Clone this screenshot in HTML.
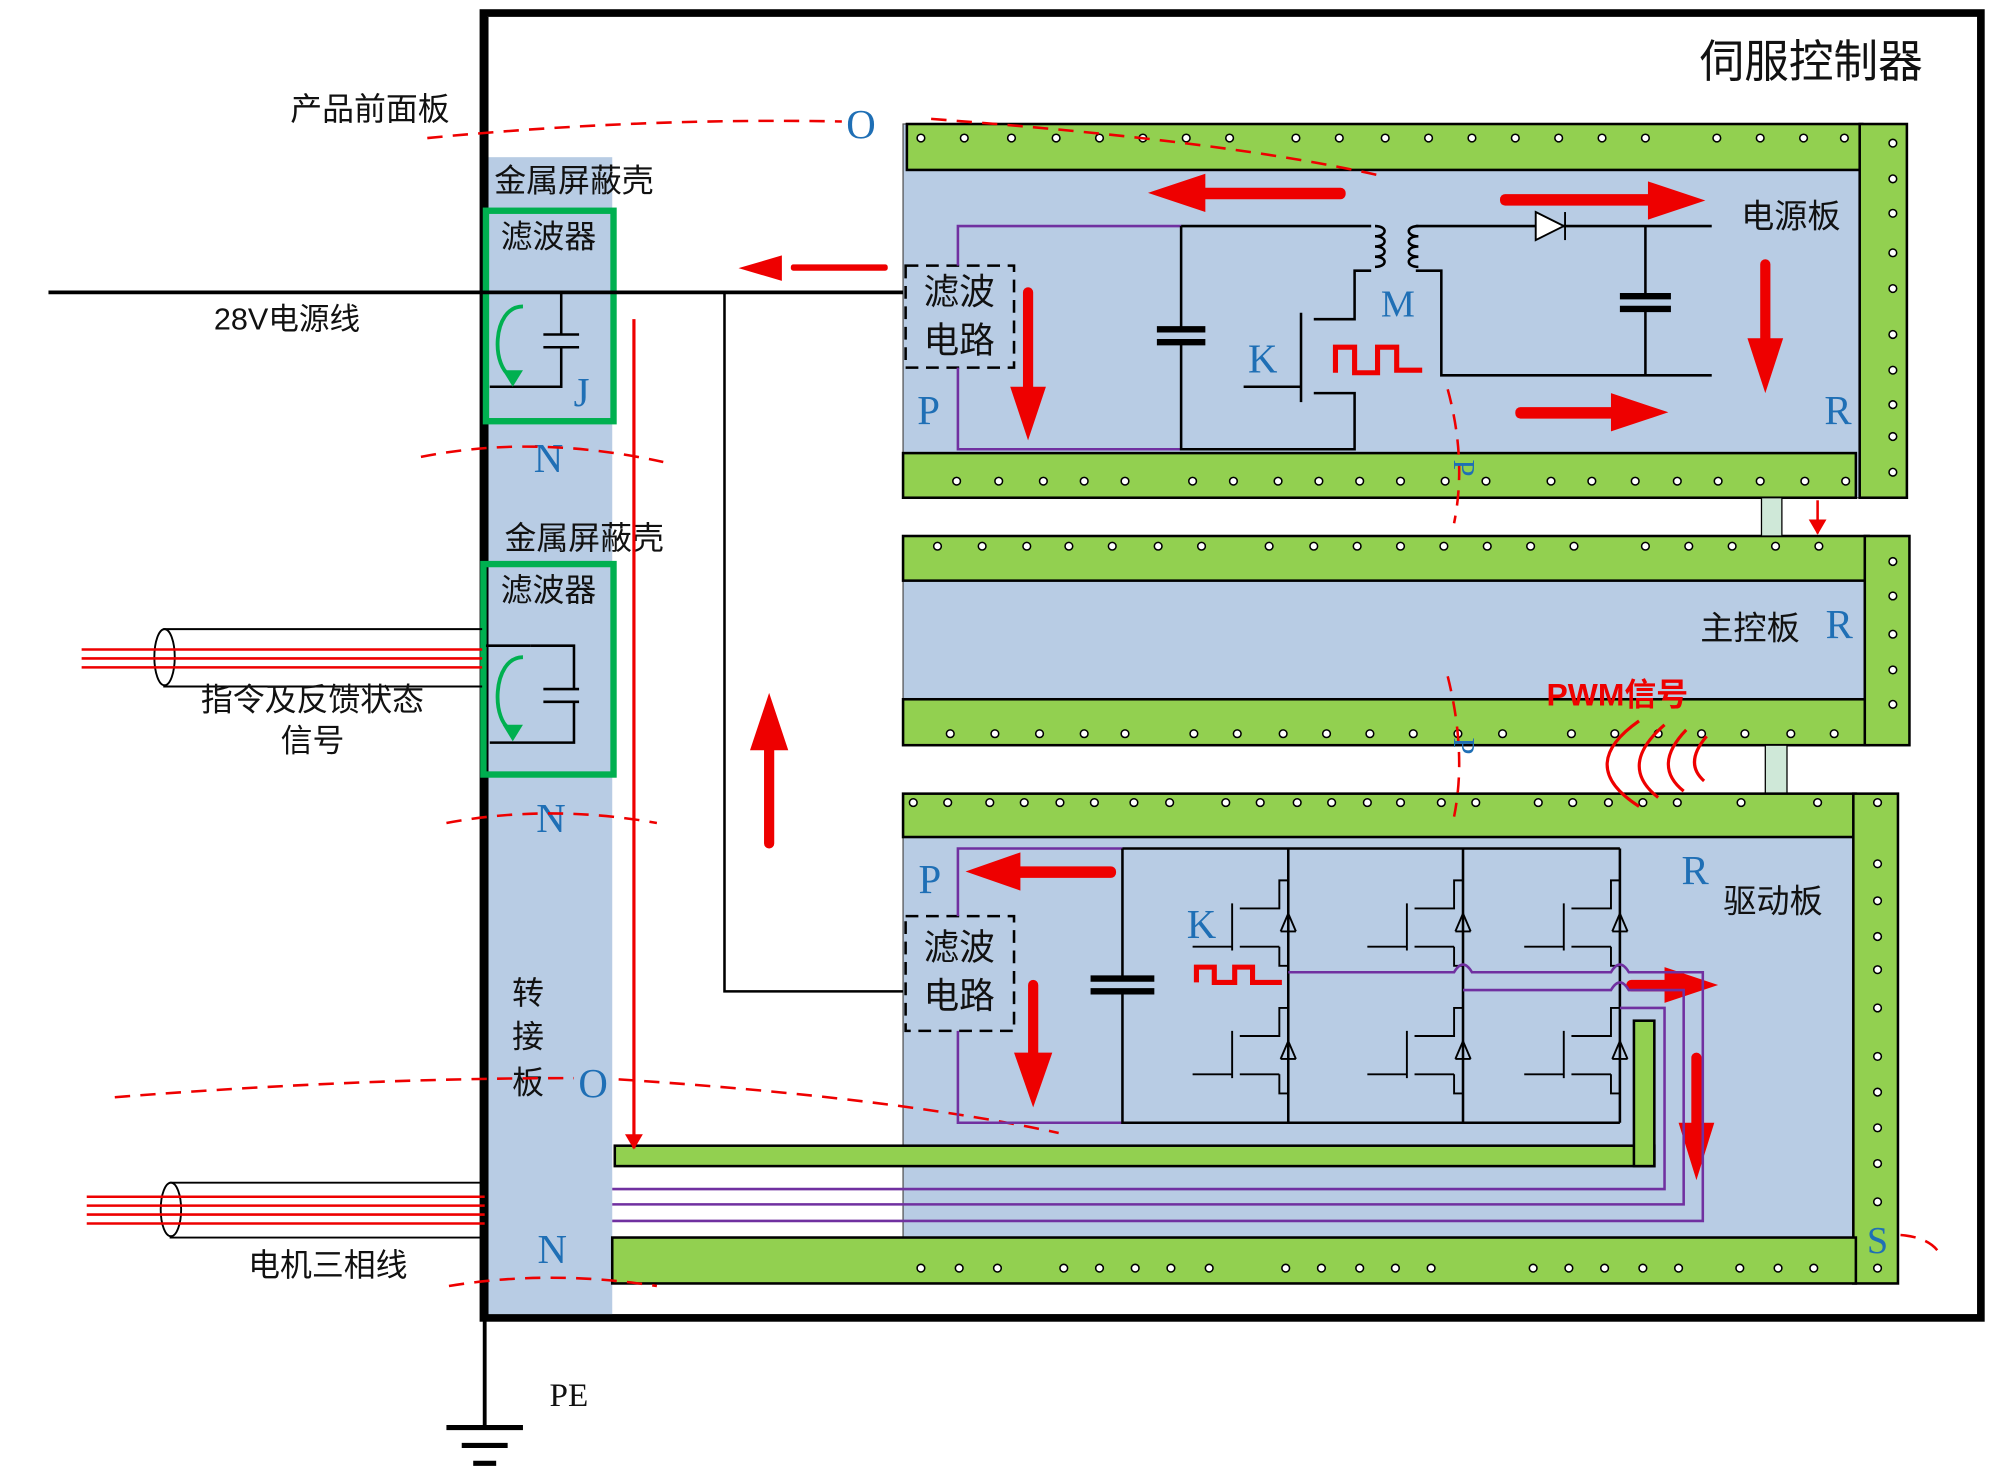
<!DOCTYPE html>
<html><head><meta charset="utf-8"><style>
html,body{margin:0;padding:0;background:#fff}
svg{display:block}
text{font-family:"Liberation Sans","Noto Sans CJK SC",sans-serif}
.cn{font-family:"Liberation Sans","Noto Sans CJK SC",sans-serif;fill:#111}
.bl{font-family:"Liberation Serif","Noto Serif CJK SC",serif;fill:#1f6fb5}
.pe{font-family:"Liberation Serif",serif;fill:#111}
</style></head><body>
<svg width="2000" height="1484" viewBox="0 0 1568 1163" xmlns="http://www.w3.org/2000/svg">
<defs>
<marker id="ah" markerWidth="12" markerHeight="14" refX="11" refY="7" orient="auto" markerUnits="userSpaceOnUse"><path d="M0,0 L12,7 L0,14 z" fill="#e00"/></marker>
</defs>
<rect x="379" y="10" width="1174" height="1023" fill="#fff" stroke="#000" stroke-width="6"/>
<text x="1420" y="60" class="cn" font-size="35" text-anchor="middle">伺服控制器</text>
<rect x="382" y="123" width="98" height="907" fill="#b8cce4"/>
<line x1="380" y1="13" x2="380" y2="1033" stroke="#000" stroke-width="6"/>

<rect x="708" y="97" width="787" height="293" fill="#b8cce4" stroke="#555" stroke-width="1"/>
<rect x="711" y="97" width="749" height="36" fill="#92d050" stroke="#000" stroke-width="2"/>
<rect x="1458" y="97" width="37" height="293" fill="#92d050" stroke="#000" stroke-width="2"/>
<rect x="708" y="355" width="747" height="35" fill="#92d050" stroke="#000" stroke-width="2"/>
<rect x="708" y="420" width="789" height="164" fill="#b8cce4" stroke="#555" stroke-width="1"/>
<rect x="708" y="420" width="757" height="35" fill="#92d050" stroke="#000" stroke-width="2"/>
<rect x="708" y="548" width="757" height="36" fill="#92d050" stroke="#000" stroke-width="2"/>
<rect x="1462" y="420" width="35" height="164" fill="#92d050" stroke="#000" stroke-width="2"/>
<rect x="1381" y="390" width="16" height="30" fill="#cfe8d8" stroke="#000" stroke-width="1"/>
<rect x="1384" y="584" width="17" height="38" fill="#cfe8d8" stroke="#000" stroke-width="1"/>
<line x1="1425" y1="392" x2="1425" y2="418" stroke="#e00" stroke-width="2" marker-end="url(#ah)"/>
<rect x="708" y="622" width="780" height="384" fill="#b8cce4" stroke="#555" stroke-width="1"/>
<rect x="708" y="622" width="747" height="34" fill="#92d050" stroke="#000" stroke-width="2"/>
<rect x="1453" y="622" width="35" height="384" fill="#92d050" stroke="#000" stroke-width="2"/>
<rect x="480" y="970" width="975" height="36" fill="#92d050" stroke="#000" stroke-width="2"/>
<rect x="482" y="898" width="815" height="16" fill="#92d050" stroke="#000" stroke-width="2"/>
<rect x="1281" y="800" width="16" height="114" fill="#92d050" stroke="#000" stroke-width="2"/>

<g fill="#fff" stroke="#000" stroke-width="1.2">
<g>
<circle cx="722" cy="108" r="3"/><circle cx="756" cy="108" r="3"/><circle cx="793" cy="108" r="3"/><circle cx="828" cy="108" r="3"/><circle cx="862" cy="108" r="3"/><circle cx="896" cy="108" r="3"/><circle cx="930" cy="108" r="3"/><circle cx="964" cy="108" r="3"/><circle cx="1016" cy="108" r="3"/><circle cx="1050" cy="108" r="3"/><circle cx="1086" cy="108" r="3"/><circle cx="1120" cy="108" r="3"/><circle cx="1154" cy="108" r="3"/><circle cx="1188" cy="108" r="3"/><circle cx="1222" cy="108" r="3"/><circle cx="1256" cy="108" r="3"/><circle cx="1290" cy="108" r="3"/><circle cx="1346" cy="108" r="3"/><circle cx="1380" cy="108" r="3"/><circle cx="1414" cy="108" r="3"/><circle cx="1446" cy="108" r="3"/>
</g>
<g>
<circle cx="750" cy="377" r="3"/><circle cx="783" cy="377" r="3"/><circle cx="818" cy="377" r="3"/><circle cx="850" cy="377" r="3"/><circle cx="882" cy="377" r="3"/><circle cx="935" cy="377" r="3"/><circle cx="967" cy="377" r="3"/><circle cx="1002" cy="377" r="3"/><circle cx="1034" cy="377" r="3"/><circle cx="1066" cy="377" r="3"/><circle cx="1098" cy="377" r="3"/><circle cx="1133" cy="377" r="3"/><circle cx="1165" cy="377" r="3"/><circle cx="1216" cy="377" r="3"/><circle cx="1248" cy="377" r="3"/><circle cx="1282" cy="377" r="3"/><circle cx="1315" cy="377" r="3"/><circle cx="1347" cy="377" r="3"/><circle cx="1380" cy="377" r="3"/><circle cx="1415" cy="377" r="3"/><circle cx="1447" cy="377" r="3"/>
</g>
<g>
<circle cx="735" cy="428" r="3"/><circle cx="770" cy="428" r="3"/><circle cx="805" cy="428" r="3"/><circle cx="838" cy="428" r="3"/><circle cx="872" cy="428" r="3"/><circle cx="908" cy="428" r="3"/><circle cx="942" cy="428" r="3"/><circle cx="995" cy="428" r="3"/><circle cx="1030" cy="428" r="3"/><circle cx="1064" cy="428" r="3"/><circle cx="1098" cy="428" r="3"/><circle cx="1132" cy="428" r="3"/><circle cx="1166" cy="428" r="3"/><circle cx="1200" cy="428" r="3"/><circle cx="1234" cy="428" r="3"/><circle cx="1290" cy="428" r="3"/><circle cx="1324" cy="428" r="3"/><circle cx="1358" cy="428" r="3"/><circle cx="1392" cy="428" r="3"/><circle cx="1426" cy="428" r="3"/>
</g>
<g>
<circle cx="745" cy="575" r="3"/><circle cx="780" cy="575" r="3"/><circle cx="815" cy="575" r="3"/><circle cx="850" cy="575" r="3"/><circle cx="882" cy="575" r="3"/><circle cx="936" cy="575" r="3"/><circle cx="970" cy="575" r="3"/><circle cx="1006" cy="575" r="3"/><circle cx="1040" cy="575" r="3"/><circle cx="1074" cy="575" r="3"/><circle cx="1108" cy="575" r="3"/><circle cx="1143" cy="575" r="3"/><circle cx="1178" cy="575" r="3"/><circle cx="1232" cy="575" r="3"/><circle cx="1266" cy="575" r="3"/><circle cx="1300" cy="575" r="3"/><circle cx="1334" cy="575" r="3"/><circle cx="1368" cy="575" r="3"/><circle cx="1404" cy="575" r="3"/><circle cx="1438" cy="575" r="3"/>
</g>
<g>
<circle cx="716" cy="629" r="3"/><circle cx="743" cy="629" r="3"/><circle cx="776" cy="629" r="3"/><circle cx="803" cy="629" r="3"/><circle cx="831" cy="629" r="3"/><circle cx="858" cy="629" r="3"/><circle cx="889" cy="629" r="3"/><circle cx="917" cy="629" r="3"/><circle cx="961" cy="629" r="3"/><circle cx="988" cy="629" r="3"/><circle cx="1017" cy="629" r="3"/><circle cx="1044" cy="629" r="3"/><circle cx="1072" cy="629" r="3"/><circle cx="1098" cy="629" r="3"/><circle cx="1130" cy="629" r="3"/><circle cx="1157" cy="629" r="3"/><circle cx="1206" cy="629" r="3"/><circle cx="1233" cy="629" r="3"/><circle cx="1261" cy="629" r="3"/><circle cx="1288" cy="629" r="3"/><circle cx="1315" cy="629" r="3"/><circle cx="1365" cy="629" r="3"/><circle cx="1425" cy="629" r="3"/>
</g>
<g>
<circle cx="722" cy="994" r="3"/><circle cx="752" cy="994" r="3"/><circle cx="782" cy="994" r="3"/><circle cx="834" cy="994" r="3"/><circle cx="862" cy="994" r="3"/><circle cx="890" cy="994" r="3"/><circle cx="918" cy="994" r="3"/><circle cx="948" cy="994" r="3"/><circle cx="1008" cy="994" r="3"/><circle cx="1036" cy="994" r="3"/><circle cx="1066" cy="994" r="3"/><circle cx="1094" cy="994" r="3"/><circle cx="1122" cy="994" r="3"/><circle cx="1202" cy="994" r="3"/><circle cx="1230" cy="994" r="3"/><circle cx="1258" cy="994" r="3"/><circle cx="1288" cy="994" r="3"/><circle cx="1316" cy="994" r="3"/><circle cx="1364" cy="994" r="3"/><circle cx="1394" cy="994" r="3"/><circle cx="1422" cy="994" r="3"/>
</g>
<g>
<circle cx="1484" cy="112" r="3"/><circle cx="1484" cy="140" r="3"/><circle cx="1484" cy="167" r="3"/><circle cx="1484" cy="198" r="3"/><circle cx="1484" cy="226" r="3"/><circle cx="1484" cy="262" r="3"/><circle cx="1484" cy="290" r="3"/><circle cx="1484" cy="317" r="3"/><circle cx="1484" cy="342" r="3"/><circle cx="1484" cy="370" r="3"/>
<circle cx="1484" cy="440" r="3"/><circle cx="1484" cy="467" r="3"/><circle cx="1484" cy="497" r="3"/><circle cx="1484" cy="525" r="3"/><circle cx="1484" cy="552" r="3"/>
<circle cx="1472" cy="629" r="3"/><circle cx="1472" cy="677" r="3"/><circle cx="1472" cy="706" r="3"/><circle cx="1472" cy="734" r="3"/><circle cx="1472" cy="760" r="3"/><circle cx="1472" cy="790" r="3"/><circle cx="1472" cy="828" r="3"/><circle cx="1472" cy="856" r="3"/><circle cx="1472" cy="884" r="3"/><circle cx="1472" cy="912" r="3"/><circle cx="1472" cy="942" r="3"/><circle cx="1472" cy="994" r="3"/>
</g>
</g>

<text x="290" y="94" class="cn" font-size="25" text-anchor="middle">产品前面板</text>
<text x="450" y="150" class="cn" font-size="25" text-anchor="middle">金属屏蔽壳</text>
<text x="458" y="430" class="cn" font-size="25" text-anchor="middle">金属屏蔽壳</text>
<rect x="381" y="165" width="100" height="165" fill="none" stroke="#00b050" stroke-width="5"/>
<rect x="379" y="442" width="102" height="165" fill="none" stroke="#00b050" stroke-width="5"/>
<text x="430" y="194" class="cn" font-size="25" text-anchor="middle">滤波器</text>
<text x="430" y="471" class="cn" font-size="25" text-anchor="middle">滤波器</text>
<g stroke="#000" stroke-width="2" fill="none">
<path d="M416,229 L440,229 L440,262 M440,272 L440,303 L384,303"/>
<path d="M426,262 L454,262 M426,272 L454,272"/>
<path d="M416,506 L450,506 L450,540 M450,550 L450,582 L384,582"/>
<path d="M426,540 L454,540 M426,550 L454,550"/>
<line x1="381" y1="506" x2="416" y2="506"/>
</g>
<path d="M410,240 C385,240 385,290 402,295" fill="none" stroke="#00b050" stroke-width="3"/>
<path d="M394,290 L402,303 L410,290 z" fill="#00b050"/>
<path d="M410,515 C385,515 385,568 402,572" fill="none" stroke="#00b050" stroke-width="3"/>
<path d="M394,568 L402,581 L410,568 z" fill="#00b050"/>
<text x="456" y="318" class="bl" font-size="32" text-anchor="middle">J</text>

<line x1="38" y1="229" x2="708" y2="229" stroke="#000" stroke-width="3"/>
<text x="225" y="258" class="cn" font-size="24" text-anchor="middle">28V电源线</text>
<path d="M568,229 L568,777 L708,777" fill="none" stroke="#000" stroke-width="2"/>

<g stroke="#000" stroke-width="1.5" fill="#fff">
<path d="M128,493 L378,493 M128,538 L378,538" />
<ellipse cx="129" cy="515" rx="8" ry="22"/>
<path d="M133,927 L380,927 M133,970 L380,970"/>
<ellipse cx="134" cy="948" rx="8" ry="21"/>
</g>
<g stroke="#e00" stroke-width="2">
<line x1="64" y1="509" x2="378" y2="509"/><line x1="64" y1="516" x2="378" y2="516"/><line x1="64" y1="523" x2="378" y2="523"/>
<line x1="68" y1="938" x2="380" y2="938"/><line x1="68" y1="945" x2="380" y2="945"/><line x1="68" y1="952" x2="380" y2="952"/><line x1="68" y1="959" x2="380" y2="959"/>
</g>
<text x="245" y="557" class="cn" font-size="25" text-anchor="middle">指令及反馈状态</text>
<text x="245" y="589" class="cn" font-size="25" text-anchor="middle">信号</text>
<text x="257" y="1000" class="cn" font-size="25" text-anchor="middle">电机三相线</text>
<text x="414" y="787" class="cn" font-size="25" text-anchor="middle">转</text>
<text x="414" y="821" class="cn" font-size="25" text-anchor="middle">接</text>
<text x="414" y="857" class="cn" font-size="25" text-anchor="middle">板</text>

<text x="430" y="370" class="bl" font-size="32" text-anchor="middle">N</text>
<text x="432" y="652" class="bl" font-size="32" text-anchor="middle">N</text>
<text x="433" y="990" class="bl" font-size="32" text-anchor="middle">N</text>
<text x="465" y="860" class="bl" font-size="32" text-anchor="middle">O</text>
<text x="675" y="108" class="bl" font-size="32" text-anchor="middle">O</text>

<g fill="none" stroke="#e00" stroke-width="2" stroke-dasharray="12,8">
<path d="M335,108 Q500,92 660,95"/>
<path d="M730,93 Q960,110 1080,137"/>
<path d="M330,358 Q420,340 520,362"/>
<path d="M350,645 Q430,630 515,645"/>
<path d="M90,860 Q280,845 450,845"/>
<path d="M485,846 Q700,860 830,888"/>
<path d="M352,1008 Q430,995 515,1008"/>
<path d="M1135,305 Q1150,360 1140,410"/>
<path d="M1135,530 Q1150,590 1140,640"/>
<path d="M1490,968 Q1515,970 1522,985"/>
</g>
<text x="1140" y="360" class="bl" font-size="24" transform="rotate(90 1140 360)">P</text>
<text x="1140" y="578" class="bl" font-size="24" transform="rotate(90 1140 578)">P</text>

<line x1="380" y1="1033" x2="380" y2="1118" stroke="#000" stroke-width="3"/>
<g stroke="#000" stroke-width="4">
<line x1="350" y1="1119" x2="410" y2="1119"/><line x1="362" y1="1133" x2="398" y2="1133"/><line x1="371" y1="1147" x2="389" y2="1147"/>
</g>
<text x="446" y="1102" class="pe" font-size="26" text-anchor="middle">PE</text>

<line x1="497" y1="250" x2="497" y2="900" stroke="#e00" stroke-width="2.5" marker-end="url(#ah)"/>

<rect x="710" y="208" width="85" height="80" fill="none" stroke="#000" stroke-width="2" stroke-dasharray="10,6"/>
<text x="752" y="238" class="cn" font-size="28" text-anchor="middle">滤波</text>
<text x="752" y="276" class="cn" font-size="28" text-anchor="middle">电路</text>
<path d="M751,208 L751,177 L926,177 M751,288 L751,352 L926,352" fill="none" stroke="#7030a0" stroke-width="2"/>
<g stroke="#000" stroke-width="2" fill="none">
<path d="M926,177 L1075,177 M926,177 L926,258 M926,268 L926,352 L1062,352 L1062,308 L1030,308"/>
<path d="M1075,212 L1062,212 L1062,250 L1030,250"/>
<path d="M1020,245 L1020,315 M975,303 L1020,303"/>
<path d="M1110,212 L1130,212 L1130,294 L1342,294"/>
<path d="M1110,177 L1342,177 M1290,177 L1290,232 M1290,242 L1290,294"/>
<path d="M1078,177 c10,0 10,8 0,8 c10,0 10,8 0,8 c10,0 10,8 0,8 c10,0 10,8 0,8"/>
<path d="M1112,177 c-10,0 -10,8 0,8 c-10,0 -10,8 0,8 c-10,0 -10,8 0,8 c-10,0 -10,8 0,8"/>
</g>
<g stroke="#000" stroke-width="5">
<line x1="907" y1="258" x2="945" y2="258"/><line x1="907" y1="268" x2="945" y2="268"/>
<line x1="1270" y1="232" x2="1310" y2="232"/><line x1="1270" y1="242" x2="1310" y2="242"/>
</g>
<path d="M1204,166 L1226,177 L1204,188 z" fill="#fff" stroke="#000" stroke-width="1.5"/>
<line x1="1227" y1="166" x2="1227" y2="188" stroke="#000" stroke-width="1.5"/>
<path d="M1047,292 L1047,272 L1062,272 L1062,292 L1080,292 L1080,272 L1095,272 L1095,290 L1115,290" fill="none" stroke="#e00" stroke-width="4"/>
<text x="990" y="292" class="bl" font-size="32" text-anchor="middle">K</text>
<text x="1096" y="248" class="bl" font-size="30" text-anchor="middle">M</text>
<text x="728" y="332" class="bl" font-size="32" text-anchor="middle">P</text>
<text x="1441" y="332" class="bl" font-size="32" text-anchor="middle">R</text>
<text x="1404" y="178" class="cn" font-size="26" text-anchor="middle">电源板</text>
<text x="1372" y="501" class="cn" font-size="26" text-anchor="middle">主控板</text>
<text x="1442" y="500" class="bl" font-size="32" text-anchor="middle">R</text>
<text x="1268" y="553" font-size="25" fill="#e00" text-anchor="middle" font-weight="bold">PWM信号</text>
<g fill="none" stroke="#e00" stroke-width="2.5">
<path d="M1285,565 Q1235,600 1285,632"/>
<path d="M1305,568 Q1268,600 1300,625"/>
<path d="M1322,572 Q1295,600 1320,620"/>
<path d="M1338,577 Q1320,598 1336,612"/>
</g>

<g fill="#e00" stroke="none">
<rect x="940" y="147" width="115" height="9" rx="4"/><path d="M945,136 L900,151 L945,166 z"/>
<rect x="1176" y="152" width="120" height="9" rx="4"/><path d="M1292,142 L1337,157 L1292,172 z"/>
<rect x="802" y="225" width="8" height="85" rx="4"/><path d="M792,303 L806,345 L820,303 z"/>
<rect x="1380" y="203" width="8" height="70" rx="4"/><path d="M1370,265 L1384,308 L1398,265 z"/>
<rect x="1188" y="319" width="80" height="9" rx="4"/><path d="M1263,308 L1308,323 L1263,338 z"/>
<rect x="620" y="207" width="76" height="5" rx="2"/><path d="M613,200 L579,210 L613,220 z"/>
<rect x="795" y="679" width="80" height="9" rx="4"/><path d="M800,668 L757,683 L800,698 z"/>
<rect x="806" y="768" width="8" height="62" rx="4"/><path d="M795,825 L810,868 L825,825 z"/>
<rect x="1275" y="768" width="35" height="9" rx="4"/><path d="M1305,758 L1347,772 L1305,786 z"/>
<rect x="1326" y="825" width="8" height="60" rx="4"/><path d="M1316,880 L1330,925 L1344,880 z"/>
<rect x="599" y="582" width="8" height="83" rx="4"/><path d="M588,588 L603,543 L618,588 z"/>
</g>

<rect x="710" y="718" width="85" height="90" fill="none" stroke="#000" stroke-width="2" stroke-dasharray="10,6"/>
<text x="752" y="752" class="cn" font-size="28" text-anchor="middle">滤波</text>
<text x="752" y="790" class="cn" font-size="28" text-anchor="middle">电路</text>
<path d="M751,718 L751,665 L880,665 M751,808 L751,880 L880,880" fill="none" stroke="#7030a0" stroke-width="2"/>
<g stroke="#000" stroke-width="2" fill="none">
<path d="M880,665 L1270,665 M880,665 L880,767 M880,777 L880,880 L1270,880"/>
<path d="M1010,665 L1010,880 M1147,665 L1147,880 M1270,665 L1270,880"/>
</g>
<g stroke="#000" stroke-width="5">
<line x1="855" y1="767" x2="905" y2="767"/><line x1="855" y1="777" x2="905" y2="777"/>
</g>
<g id="tr" fill="none" stroke="#000" stroke-width="1.5">
<path d="M1010,690 L1003,690 L1003,712 L972,712 M1003,742 L1003,757 L1010,757"/>
<path d="M966,708 L966,745 M935,742 L966,742 M972,742 L1003,742"/>
<path d="M1004,730 L1016,730 M1010,716 L1004,730 M1010,716 L1016,730"/>
</g>
<use href="#tr" x="137"/><use href="#tr" x="260"/>
<use href="#tr" y="100"/><use href="#tr" x="137" y="100"/><use href="#tr" x="260" y="100"/>
<text x="942" y="735" class="bl" font-size="32" text-anchor="middle">K</text>
<path d="M938,770 L938,758 L952,758 L952,770 L968,770 L968,758 L982,758 L982,770 L1005,770" fill="none" stroke="#e00" stroke-width="4"/>
<g fill="none" stroke="#7030a0" stroke-width="2">
<path d="M1010,762 L1140,762 q7,-12 14,0 L1263,762 q7,-12 14,0 L1335,762 L1335,957 L480,957"/>
<path d="M1147,776 L1263,776 q7,-12 14,0 L1320,776 L1320,944 L480,944"/>
<path d="M1270,790 L1305,790 L1305,932 L480,932"/>
</g>
<text x="729" y="700" class="bl" font-size="32" text-anchor="middle">P</text>
<text x="1329" y="693" class="bl" font-size="32" text-anchor="middle">R</text>
<text x="1390" y="715" class="cn" font-size="26" text-anchor="middle">驱动板</text>
<text x="1472" y="982" class="bl" font-size="30" text-anchor="middle">S</text>
</svg>
</body></html>
